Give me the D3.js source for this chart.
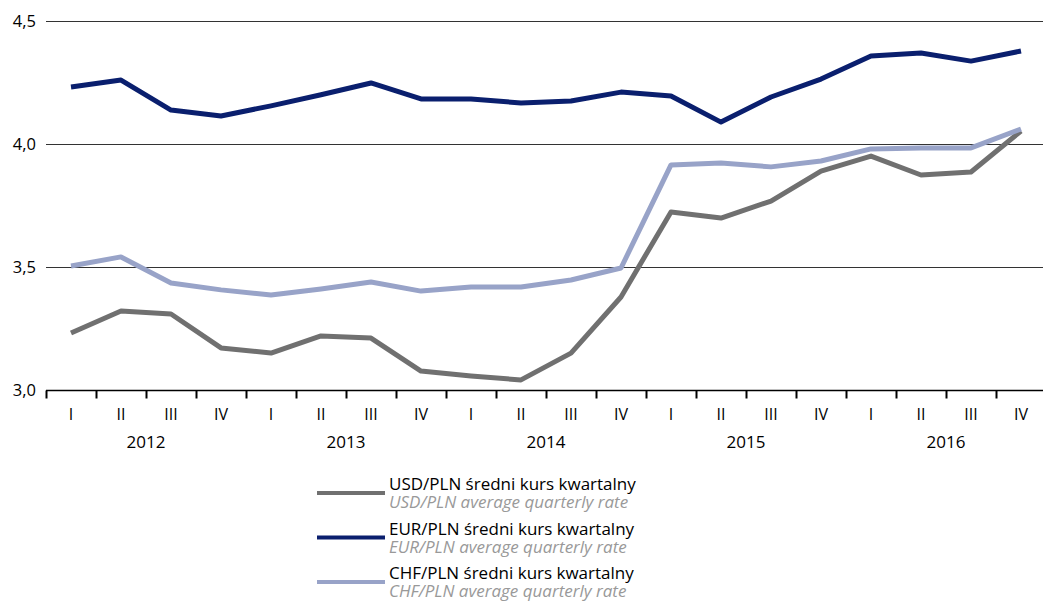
<!DOCTYPE html>
<html>
<head>
<meta charset="utf-8">
<script src="https://cdn.jsdelivr.net/npm/d3@7"></script>
<style>
  body { margin: 0; background: #fff; }
  text { font-family: "Open Sans", "Noto Sans", sans-serif; }
</style>
</head>
<body>
<div id="chart"></div>
<script>
// quarters and years
const quarters = ["I", "II", "III", "IV"];
const years = ["2012", "2013", "2014", "2015", "2016"];
const periods = years.flatMap(y => quarters.map(q => y + " " + q));

// average quarterly rates
const usdPln = [3.232, 3.321, 3.309, 3.171, 3.150, 3.220, 3.211, 3.077, 3.057, 3.041,
  3.150, 3.378, 3.724, 3.699, 3.768, 3.890, 3.951, 3.874, 3.886, 4.053];
const eurPln = [4.232, 4.260, 4.138, 4.114, 4.155, 4.200, 4.248, 4.183, 4.183, 4.167,
  4.175, 4.211, 4.195, 4.089, 4.191, 4.264, 4.358, 4.370, 4.337, 4.378];
const chfPln = [3.504, 3.541, 3.435, 3.407, 3.386, 3.411, 3.439, 3.402, 3.419, 3.419,
  3.447, 3.496, 3.915, 3.923, 3.907, 3.931, 3.980, 3.984, 3.984, 4.061];

const yTicks = [3.0, 3.5, 4.0, 4.5];

const series = [
  { pl: "USD/PLN średni kurs kwartalny", en: "USD/PLN average quarterly rate", values: usdPln, color: "#707070" },
  { pl: "EUR/PLN średni kurs kwartalny", en: "EUR/PLN average quarterly rate", values: eurPln, color: "#0a1f6e" },
  { pl: "CHF/PLN średni kurs kwartalny", en: "CHF/PLN average quarterly rate", values: chfPln, color: "#98a3c8" }
];

const width = 1043, height = 601;
const svg = d3.select("#chart").append("svg")
  .attr("width", width).attr("height", height);

const x = d3.scaleBand().domain(periods).range([46, 1046]);
const y = d3.scaleLinear().domain([3.0, 4.5]).range([390, 21]);

// gridlines
svg.append("g")
  .selectAll("line")
  .data(yTicks.slice(1))
  .enter().append("line")
  .attr("x1", 46).attr("x2", width)
  .attr("y1", d => Math.round(y(d)) + 0.5).attr("y2", d => Math.round(y(d)) + 0.5)
  .attr("stroke", "#333").attr("stroke-width", 1);

// y labels
svg.append("g")
  .selectAll("text")
  .data(yTicks)
  .enter().append("text")
  .attr("x", 36).attr("y", d => y(d) + 5.5)
  .attr("text-anchor", "end")
  .attr("font-size", 16.5).attr("fill", "#000")
  .text(d => d3.format(".1f")(d).replace(".", ","));

// x axis
const axis = svg.append("g").attr("transform", "translate(0,390.5)");
axis.append("line").attr("x1", 46).attr("x2", width).attr("stroke", "#000").attr("stroke-width", 1.5);
axis.selectAll(".tick")
  .data(periods)
  .enter().append("line")
  .attr("x1", d => Math.round(x(d)) + 0.5).attr("x2", d => Math.round(x(d)) + 0.5)
  .attr("y1", 0).attr("y2", 8)
  .attr("stroke", "#000").attr("stroke-width", 2);
axis.selectAll(".qlabel")
  .data(periods)
  .enter().append("text")
  .attr("x", d => x(d) + x.bandwidth() / 2).attr("y", 29)
  .attr("text-anchor", "middle").attr("font-size", 16).attr("fill", "#000")
  .text(d => d.split(" ")[1]);
axis.selectAll(".ylabel")
  .data(years)
  .enter().append("text")
  .attr("x", d => x(d + " II") + x.bandwidth())
  .attr("y", 57)
  .attr("text-anchor", "middle").attr("font-size", 17).attr("fill", "#000")
  .text(d => d);

// lines
const line = d3.line()
  .x((d, i) => x(periods[i]) + x.bandwidth() / 2)
  .y(d => y(d));

svg.append("g")
  .selectAll("path")
  .data(series)
  .enter().append("path")
  .attr("d", d => line(d.values))
  .attr("fill", "none")
  .attr("stroke", d => d.color)
  .attr("stroke-width", 5)
  .attr("stroke-linejoin", "round");

// legend: swatch plus a two-line label (Polish / English)
const legend = svg.append("g")
  .selectAll("g")
  .data(series)
  .enter().append("g")
  .attr("transform", (d, i) => `translate(317,${493 + i * 44.5})`);
legend.append("line")
  .attr("x1", 0).attr("x2", 68)
  .attr("stroke", d => d.color).attr("stroke-width", 4);
const label = legend.append("text")
  .attr("x", 72).attr("y", -3)
  .attr("font-size", 17);
label.append("tspan")
  .attr("x", 72).attr("fill", "#000")
  .text(d => d.pl);
label.append("tspan")
  .attr("x", 72).attr("dy", 18)
  .attr("font-style", "italic").attr("fill", "#999")
  .text(d => d.en);
</script>
</body>
</html>
